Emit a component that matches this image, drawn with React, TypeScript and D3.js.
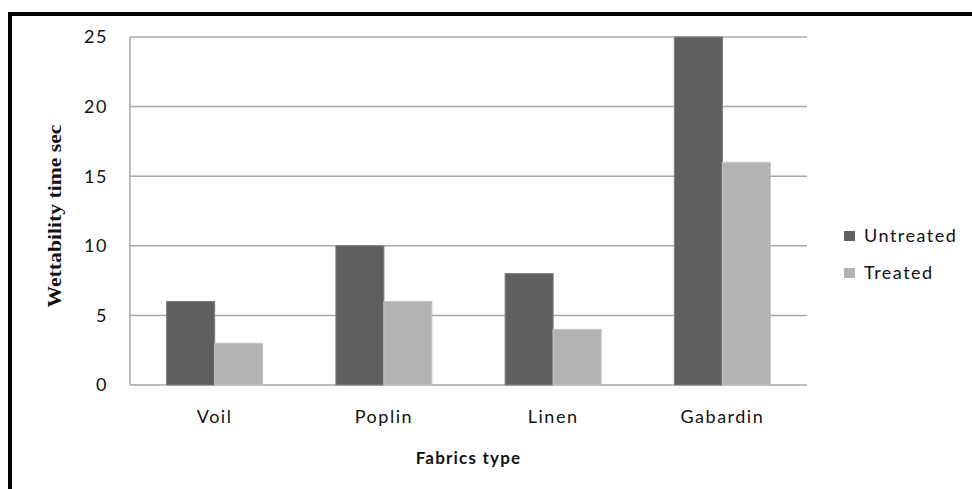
import React from "react";
import * as d3 from "d3";

const categories = ["Voil", "Poplin", "Linen", "Gabardin"];
const seriesNames = ["Untreated", "Treated"];
const untreated = [6, 10, 8, 25];
const treated = [3, 6, 4, 16];
const yTicks = [0, 5, 10, 15, 20, 25];
const colors = ["#606060", "#b2b2b2"];
const strokes = ["#7c7c7c", "#c4c4c4"];

const W = 972;
const H = 489;
const plot = { left: 130, right: 807, top: 37, bottom: 385 };

export default function App() {
  const x = d3.scaleBand<string>().domain(categories).range([plot.left, plot.right]).padding(0);
  const xInner = d3
    .scaleBand<string>()
    .domain(seriesNames)
    .range([0, x.bandwidth()])
    .paddingInner(0)
    .paddingOuter(0.763);
  const y = d3.scaleLinear().domain([0, 25]).range([plot.bottom, plot.top]);
  const series = [untreated, treated];
  const labelFont = "Lato, 'Open Sans', sans-serif";

  return (
    <svg
      width={W}
      height={H}
      style={{ position: "absolute", left: 0, top: 0, background: "#fff" }}
    >
      {/* frame */}
      <line x1={10} y1={14} x2={W} y2={14} stroke="#000" strokeWidth={4} />
      <line x1={10} y1={12} x2={10} y2={H} stroke="#000" strokeWidth={4} />

      {/* gridlines */}
      {yTicks.map((t) => (
        <line
          key={t}
          x1={plot.left}
          x2={plot.right}
          y1={y(t)}
          y2={y(t)}
          stroke="#a8a8a8"
          strokeWidth={1.5}
        />
      ))}
      <line x1={plot.left} x2={plot.left} y1={plot.top} y2={plot.bottom} stroke="#a8a8a8" strokeWidth={1.5} />

      {/* bars */}
      {categories.map((c, i) =>
        seriesNames.map((s, j) => {
          const v = series[j][i];
          const bx = (x(c) as number) + (xInner(s) as number);
          return (
            <rect
              key={c + s}
              x={bx}
              y={y(v)}
              width={xInner.bandwidth()}
              height={y(0) - y(v)}
              fill={colors[j]}
              stroke={strokes[j]}
              strokeWidth={1}
            />
          );
        })
      )}

      {/* y tick labels */}
      {yTicks.map((t) => (
        <text
          key={t}
          x={108}
          y={y(t)}
          dy="0.36em"
          textAnchor="end"
          fontFamily={labelFont}
          fontSize={18}
          letterSpacing={1.5}
          fill="#111"
        >
          {t}
        </text>
      ))}

      {/* x labels */}
      {categories.map((c) => (
        <text
          key={c}
          x={(x(c) as number) + x.bandwidth() / 2}
          y={423}
          textAnchor="middle"
          fontFamily={labelFont}
          fontSize={18}
          letterSpacing={1.5}
          fill="#111"
        >
          {c}
        </text>
      ))}

      {/* axis titles */}
      <text
        x={(plot.left + plot.right) / 2}
        y={464}
        textAnchor="middle"
        fontFamily={labelFont}
        fontWeight="bold"
        fontSize={17}
        letterSpacing={1.2}
        fill="#111"
      >
        Fabrics type
      </text>
      <text
        transform={`translate(61,216) rotate(-90)`}
        textAnchor="middle"
        fontFamily="'Liberation Serif', 'Times New Roman', serif"
        fontWeight="bold"
        fontSize={19}
        textLength={183}
        lengthAdjust="spacingAndGlyphs"
        fill="#111"
      >
        Wettability time sec
      </text>

      {/* legend */}
      {seriesNames.map((s, j) => (
        <g key={s} transform={`translate(844, ${231 + j * 37})`}>
          <rect x={0} y={0} width={11} height={10} fill={colors[j]} />
          <text
            x={20}
            y={10.5}
            fontFamily={labelFont}
            fontSize={18}
            letterSpacing={1.5}
            fill="#111"
          >
            {s}
          </text>
        </g>
      ))}
    </svg>
  );
}
